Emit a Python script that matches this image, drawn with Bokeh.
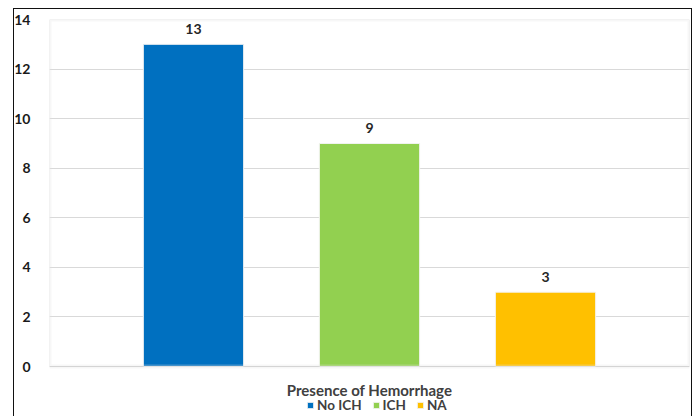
from bokeh.plotting import figure
from bokeh.models import (ColumnDataSource, FactorRange, Legend, LegendItem, Label,
                          LabelSet, FixedTicker, Range1d, InlineStyleSheet, BoxAnnotation)
from bokeh.core.properties import value
from bokeh.embed import file_html
from bokeh.resources import INLINE

categories = ["No ICH", "ICH", "NA"]
counts = [13, 9, 3]
colors = ["#0070C0", "#92D050", "#FFC000"]
y_ticks = [0, 2, 4, 6, 8, 10, 12, 14]
axis_title = "Presence of Hemorrhage"

FONT = "Lato"
Y_MAX = 14
PX_PER_UNIT = 347 / Y_MAX
Y_MIN = -50 / PX_PER_UNIT   # room below the axis for the title and legend

src = ColumnDataSource(dict(cat=categories, val=counts, col=colors,
                            lbl=[str(v) for v in counts]))

border_css = InlineStyleSheet(css="""
:host { position: relative; }
:host::after {
  content: ''; position: absolute; left: 13px; top: 8px; width: 679px; height: 420px;
  border: 1.5px solid #111; border-bottom: none; box-sizing: border-box; pointer-events: none;
}
""")

p = figure(frame_width=640, frame_height=397, output_backend="svg", toolbar_location=None,
           x_range=FactorRange(factors=categories, range_padding=0.212),
           y_range=Range1d(Y_MIN, Y_MAX), x_axis_location=None,
           min_border_left=49, min_border_right=10, min_border_top=19, min_border_bottom=0,
           stylesheets=[border_css])
p.styles = {"overflow": "hidden"}
p.background_fill_color = "white"
p.border_fill_color = "white"
p.outline_line_color = None

# plot-area outline with soft shadow (right / bottom)
p.add_layout(BoxAnnotation(bottom=0, top=Y_MAX, fill_alpha=0, line_color="#e6e6e6",
                           line_width=4))
p.add_layout(BoxAnnotation(bottom=0, top=Y_MAX, fill_alpha=0, line_color="#c4c4c4",
                           line_width=1))

r = p.vbar(x="cat", top="val", width=0.57, color="col", line_color="#f4f4f4",
           line_width=1, source=src)

labels = LabelSet(x="cat", y="val", text="lbl", source=src, y_offset=10,
                  text_align="center", text_baseline="bottom",
                  text_font=value(FONT), text_font_style="bold", text_font_size="14px",
                  text_color="#262626")
p.add_layout(labels)

p.yaxis.ticker = FixedTicker(ticks=y_ticks)
p.yaxis.axis_line_color = None
p.yaxis.major_tick_line_color = None
p.yaxis.minor_tick_line_color = None
p.yaxis.major_label_text_font = FONT
p.yaxis.major_label_text_font_style = "bold"
p.yaxis.major_label_text_font_size = "14px"
p.yaxis.major_label_text_color = "#1a1a1a"
p.yaxis.major_label_standoff = 13
p.xgrid.grid_line_color = None
p.ygrid.grid_line_color = "#d9d9d9"
p.ygrid.grid_line_width = 1

title_lbl = Label(x=len(categories) / 2, y=-23 / PX_PER_UNIT, text=axis_title,
                  text_align="center", text_baseline="middle",
                  text_font=FONT, text_font_style="bold", text_font_size="15px",
                  text_color="#404040")
p.add_layout(title_lbl)

legend = Legend(items=[LegendItem(label=categories[i], renderers=[r], index=i) for i in range(len(categories))],
                orientation="horizontal", location=(257, 3),
                label_text_font=FONT, label_text_font_style="bold",
                label_text_font_size="13.5px", label_text_color="#404040",
                glyph_width=8, glyph_height=8, label_standoff=3, spacing=10,
                padding=0, margin=0, border_line_color=None, background_fill_alpha=0,
                label_height=12)
p.add_layout(legend)

open("out.html", "w").write(file_html(p, INLINE))
